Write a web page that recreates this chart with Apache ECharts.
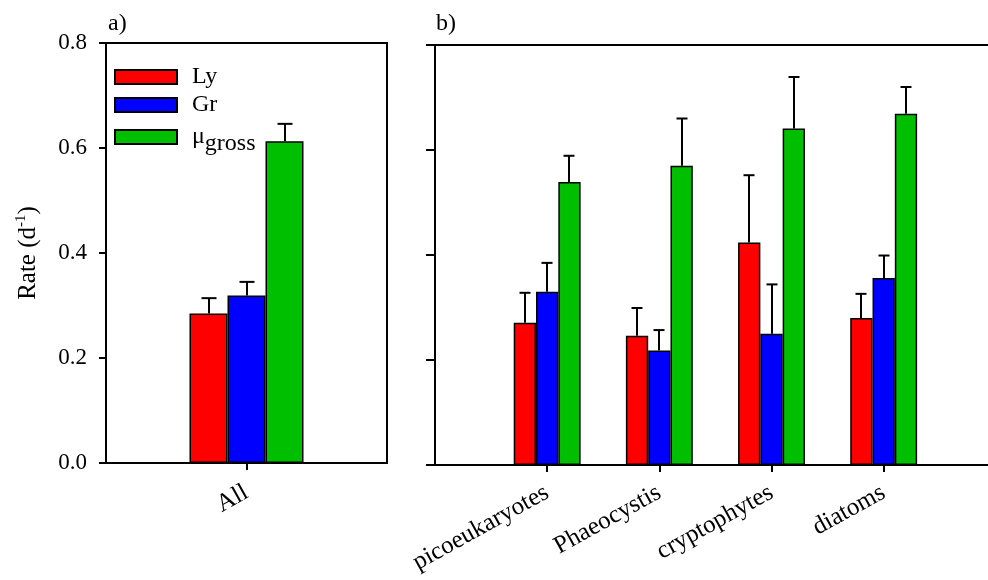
<!DOCTYPE html>
<html>
<head>
<meta charset="utf-8">
<script src="https://cdn.jsdelivr.net/npm/echarts@6/dist/echarts.min.js"></script>
<style>
  html, body { margin: 0; padding: 0; background: #fff; }
  #chart { width: 988px; height: 580px; }
</style>
</head>
<body>
<div id="chart"></div>
<script>
// Rates (d^-1): lysis (Ly), grazing (Gr) and gross growth (mu gross)
const allCategory = ['All'];
const groupCategories = ['picoeukaryotes', 'Phaeocystis', 'cryptophytes', 'diatoms'];
const groupPositions = [1, 2, 3, 4];

const lyAll = [0.285];
const lyAllErr = [0.029];
const grAll = [0.319];
const grAllErr = [0.026];
const muAll = [0.613];
const muAllErr = [0.033];

const lyGroup = [0.271, 0.246, 0.424, 0.280];
const lyGroupErr = [0.057, 0.053, 0.128, 0.046];
const grGroup = [0.330, 0.218, 0.250, 0.356];
const grGroupErr = [0.055, 0.039, 0.094, 0.043];
const muGroup = [0.539, 0.570, 0.641, 0.669];
const muGroupErr = [0.050, 0.090, 0.098, 0.051];

const seriesNames = ['Ly', 'Gr', 'μgross'];
const seriesColors = ['#ff0000', '#0000ff', '#00bf00'];

const FONT = "'Liberation Serif', 'Times New Roman', serif";
const BAR_A = 38;
const BAR_B = 22.3;

const chart = echarts.init(document.getElementById('chart'), null, { renderer: 'canvas' });

// upward-only error bar with a cap, drawn from value and error through the axes
function errorBars(xIdx, yIdx, data, shift, capHalf) {
  return {
    type: 'custom',
    xAxisIndex: xIdx,
    yAxisIndex: yIdx,
    z: 5,
    silent: true,
    data: data,
    renderItem: function (params, api) {
      const x = api.value(0), v = api.value(1), e = api.value(2);
      const base = api.coord([x, v]);
      const top = api.coord([x, v + e]);
      const cx = Math.round(base[0] + shift);
      return {
        type: 'group',
        children: [
          { type: 'line', shape: { x1: cx, y1: base[1], x2: cx, y2: top[1] },
            style: { stroke: '#000', lineWidth: 2 } },
          { type: 'line', shape: { x1: cx - capHalf, y1: top[1], x2: cx + capHalf, y2: top[1] },
            style: { stroke: '#000', lineWidth: 2 } }
        ]
      };
    }
  };
}

function barSeries(name, color, xIdx, yIdx, data, width) {
  return {
    type: 'bar',
    name: name,
    xAxisIndex: xIdx,
    yAxisIndex: yIdx,
    barWidth: width,
    barGap: '0%',
    data: data,
    itemStyle: { color: color, borderColor: '#000', borderWidth: 1.5 },
    emphasis: { disabled: true }
  };
}

const allVals = [lyAll, grAll, muAll];
const allErrs = [lyAllErr, grAllErr, muAllErr];
const grpVals = [lyGroup, grGroup, muGroup];
const grpErrs = [lyGroupErr, grGroupErr, muGroupErr];

const series = [];
for (let s = 0; s < 3; s++) {
  series.push(barSeries(seriesNames[s], seriesColors[s], 0, 0, allVals[s], BAR_A));
}
for (let s = 0; s < 3; s++) {
  series.push(barSeries(seriesNames[s], seriesColors[s], 1, 1,
    groupPositions.map((p, i) => [p, grpVals[s][i]]), BAR_B));
}
for (let s = 0; s < 3; s++) {
  series.push(errorBars(0, 0, allVals[s].map((v, i) => [i, v, allErrs[s][i]]), (s - 1) * BAR_A, 7.5));
  series.push(errorBars(1, 1, groupPositions.map((p, i) => [p, grpVals[s][i], grpErrs[s][i]]), (s - 1) * BAR_B, 5.5));
}

const axisLine = { show: true, lineStyle: { color: '#000', width: 2 } };
function ticks(len, extra) {
  return Object.assign({ show: true, inside: false, length: len, lineStyle: { color: '#000', width: 2 } }, extra || {});
}

const txt = { fontFamily: FONT, fontSize: 24, color: '#000' };

function legendFor(name, top) {
  return {
    data: [name],
    orient: 'vertical',
    left: 109,
    top: top,
    itemWidth: 62,
    itemHeight: 14,
    icon: 'rect',
    selectedMode: false,
    textStyle: {
      fontFamily: FONT, fontSize: 24, color: '#000',
      rich: {
        t: Object.assign({}, txt, { lineHeight: 14, padding: [0, 0, 0, 10] }),
        m: Object.assign({}, txt, { lineHeight: 14, padding: [0, 0, 0, 10], verticalAlign: 'middle' }),
        sub: Object.assign({}, txt, { lineHeight: 14, padding: [14, 0, 0, 0], verticalAlign: 'middle' })
      }
    },
    formatter: function (n) {
      if (n === 'μgross') return '{m|μ}{sub|gross}';
      return '{t|' + n + '}';
    }
  };
}

const option = {
  animation: false,
  backgroundColor: '#fff',
  textStyle: { fontFamily: FONT },
  grid: [
    { left: 106, right: 601, top: 43, bottom: 117, show: true, borderColor: '#000', borderWidth: 2 },
    { left: 435, right: 0, top: 45, bottom: 115 }
  ],
  legend: [
    legendFor('Ly', 60),
    legendFor('Gr', 88),
    legendFor('μgross', 113)
  ],
  xAxis: [
    {
      type: 'category', gridIndex: 0, data: allCategory,
      axisLine: axisLine,
      axisTick: ticks(7, { alignWithLabel: true }),
      axisLabel: { rotate: 29, fontFamily: FONT, fontSize: 25, color: '#000', margin: 28 },
      splitLine: { show: false }
    },
    {
      type: 'value', gridIndex: 1, min: 0, max: 4.93,
      axisLine: axisLine,
      axisTick: ticks(7, { customValues: groupPositions }),
      axisLabel: {
        rotate: 29, fontFamily: FONT, fontSize: 25, color: '#000', margin: 26,
        customValues: groupPositions,
        formatter: function (v) { return groupCategories[groupPositions.indexOf(v)] || ''; }
      },
      splitLine: { show: false }
    },
    {
      type: 'value', gridIndex: 1, position: 'top', min: 0, max: 1,
      axisLine: axisLine, axisTick: { show: false }, axisLabel: { show: false }, splitLine: { show: false }
    }
  ],
  yAxis: [
    {
      type: 'value', gridIndex: 0, min: 0, max: 0.8, interval: 0.2,
      axisLine: axisLine, axisTick: ticks(7),
      axisLabel: {
        fontFamily: FONT, fontSize: 23, color: '#000', margin: 19,
        formatter: function (v) { return v.toFixed(1); }
      },
      splitLine: { show: false },
      name: '{a|Rate (d}{s|-1}{a|)}',
      nameLocation: 'middle',
      nameGap: 64,
      nameRotate: 90,
      nameTextStyle: {
        rich: {
          a: { fontFamily: FONT, fontSize: 25, color: '#000', lineHeight: 28 },
          s: { fontFamily: FONT, fontSize: 15, color: '#000', verticalAlign: 'top', lineHeight: 28 }
        }
      }
    },
    {
      type: 'value', gridIndex: 1, min: 0, max: 0.8, interval: 0.2,
      axisLine: axisLine, axisTick: ticks(9),
      axisLabel: { show: false },
      splitLine: { show: false }
    }
  ],
  graphic: [
    { type: 'text', left: 108, top: 12, style: { text: 'a)', font: '24px ' + FONT, fill: '#000' } },
    { type: 'text', left: 436, top: 12, style: { text: 'b)', font: '24px ' + FONT, fill: '#000' } }
  ],
  series: series
};

chart.setOption(option);
</script>
</body>
</html>
